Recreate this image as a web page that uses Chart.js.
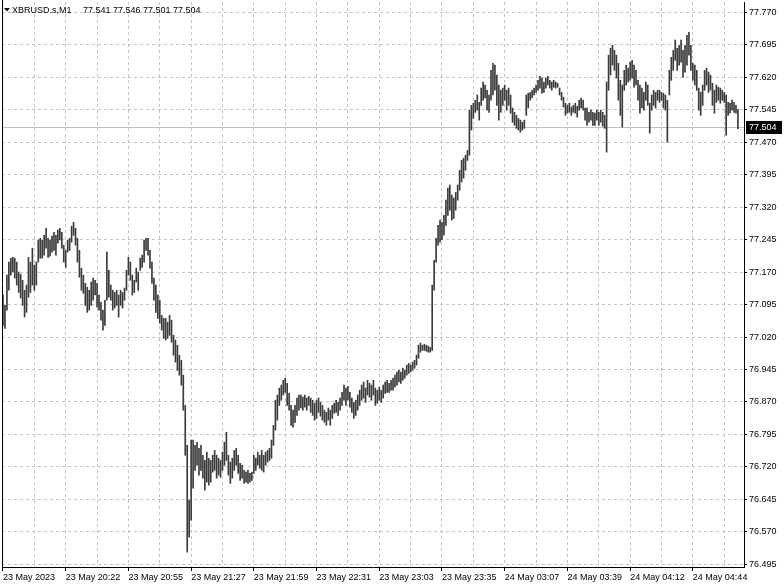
<!DOCTYPE html>
<html><head><meta charset="utf-8">
<script src="https://cdn.jsdelivr.net/npm/chart.js@4/dist/chart.umd.min.js"></script>
<style>html,body{margin:0;padding:0;background:#fff}#wrap{width:784px;height:588px}</style>
</head><body><div id="wrap"><canvas id="c" width="784" height="588"></canvas></div>
<script>
const symbolName = "XBRUSD.s,M1";
const headerOHLC = [77.541, 77.546, 77.501, 77.504];
const lastPrice = 77.504;
const timeLabels = ["23 May 2023","23 May 20:22","23 May 20:55","23 May 21:27","23 May 21:59","23 May 22:31","23 May 23:03","23 May 23:35","24 May 03:07","24 May 03:39","24 May 04:12","24 May 04:44"];
const labelBars = [0,32,64,96,128,160,192,224,256,288,320,352];
const gridBars = [0,16,32,48,64,80,96,112,128,144,160,176,192,208,224,240,256,272,288,304,320,336,352,368];
const priceTicks = [76.495,76.570,76.645,76.720,76.795,76.870,76.945,77.020,77.095,77.170,77.245,77.320,77.395,77.470,77.545,77.620,77.695,77.770];

const highs = [
77.117,77.093,77.163,77.193,77.202,77.204,77.202,77.193,77.170,77.165,
77.151,77.128,77.140,77.204,77.193,77.225,77.186,77.193,77.244,77.248,
77.244,77.255,77.271,77.248,77.244,77.253,77.262,77.255,77.267,77.271,
77.262,77.232,77.220,77.244,77.248,77.276,77.285,77.271,77.248,77.220,
77.179,77.163,77.144,77.135,77.128,77.147,77.156,77.151,77.144,77.117,
77.100,77.082,77.105,77.216,77.174,77.140,77.128,77.123,77.128,77.117,
77.128,77.123,77.133,77.174,77.204,77.193,77.163,77.151,77.179,77.170,
77.202,77.209,77.244,77.248,77.248,77.220,77.193,77.156,77.140,77.117,
77.105,77.070,77.063,77.063,77.054,77.070,77.059,77.024,77.013,77.001,
76.978,76.966,76.932,76.862,76.770,76.643,76.782,76.782,76.770,76.777,
76.763,76.770,76.747,76.735,76.754,76.740,76.735,76.747,76.758,76.747,
76.740,76.735,76.754,76.777,76.800,76.747,76.731,76.740,76.758,76.763,
76.747,76.728,76.724,76.712,76.708,76.712,76.705,76.708,76.747,76.740,
76.754,76.747,76.758,76.747,76.754,76.758,76.763,76.782,76.816,76.874,
76.886,76.902,76.909,76.920,76.925,76.913,76.890,76.862,76.851,76.862,
76.879,76.886,76.886,76.881,76.886,76.879,76.883,76.879,76.874,76.867,
76.874,76.879,76.869,76.862,76.851,76.846,76.856,76.851,76.862,76.867,
76.874,76.869,76.879,76.892,76.909,76.902,76.906,76.892,76.879,76.869,
76.874,76.886,76.897,76.909,76.916,76.902,76.920,76.913,76.909,76.920,
76.902,76.897,76.904,76.897,76.909,76.916,76.920,76.913,76.920,76.925,
76.932,76.939,76.943,76.939,76.948,76.943,76.955,76.959,76.955,76.962,
76.966,76.978,77.001,77.006,77.001,77.003,77.001,76.999,76.996,77.140,
77.197,77.248,77.278,77.290,77.285,77.301,77.336,77.364,77.371,77.348,
77.341,77.354,77.371,77.405,77.428,77.433,77.440,77.451,77.544,77.555,
77.560,77.567,77.579,77.562,77.595,77.609,77.602,77.590,77.579,77.636,
77.652,77.648,77.625,77.602,77.590,77.595,77.602,77.590,77.595,77.579,
77.549,77.539,77.532,77.525,77.521,77.516,77.521,77.579,77.583,77.585,
77.590,77.595,77.602,77.613,77.622,77.618,77.609,77.618,77.622,77.613,
77.609,77.613,77.609,77.606,77.595,77.585,77.574,77.560,77.555,77.560,
77.551,77.555,77.560,77.553,77.567,77.572,77.567,77.549,77.549,77.539,
77.544,77.539,77.537,77.544,77.539,77.544,77.539,77.532,77.609,77.671,
77.687,77.694,77.682,77.671,77.652,77.613,77.602,77.636,77.648,77.641,
77.655,77.659,77.648,77.636,77.613,77.602,77.595,77.585,77.609,77.602,
77.560,77.579,77.590,77.585,77.590,77.590,77.585,77.583,77.579,77.567,
77.636,77.666,77.682,77.706,77.687,77.694,77.706,77.682,77.694,77.717,
77.724,77.694,77.652,77.648,77.636,77.595,77.585,77.602,77.636,77.641,
77.632,77.625,77.606,77.590,77.602,77.597,77.595,77.590,77.585,77.579,
77.562,77.560,77.567,77.562,77.555,77.546
];
const lows = [
77.047,77.040,77.082,77.128,77.163,77.170,77.156,77.140,77.123,77.110,
77.093,77.066,77.077,77.112,77.123,77.140,77.128,77.140,77.193,77.202,
77.202,77.209,77.225,77.204,77.207,77.216,77.220,77.209,77.237,77.244,
77.225,77.193,77.181,77.216,77.220,77.239,77.255,77.232,77.193,77.158,
77.128,77.121,77.093,77.077,77.082,77.093,77.105,77.117,77.089,77.082,
77.059,77.036,77.047,77.105,77.112,77.105,77.082,77.087,77.093,77.066,
77.093,77.087,77.105,77.128,77.163,77.151,77.117,77.123,77.147,77.128,
77.174,77.181,77.193,77.220,77.209,77.179,77.144,77.105,77.077,77.063,
77.052,77.036,77.017,77.013,77.017,77.024,77.008,76.978,76.962,76.943,
76.932,76.909,76.851,76.747,76.523,76.558,76.597,76.671,76.712,76.724,
76.701,76.712,76.694,76.666,76.685,76.678,76.685,76.708,76.712,76.694,
76.701,76.696,76.712,76.724,76.735,76.701,76.682,76.694,76.712,76.724,
76.705,76.689,76.694,76.682,76.685,76.682,76.685,76.689,76.705,76.712,
76.724,76.717,76.712,76.708,76.724,76.731,76.735,76.740,76.770,76.805,
76.828,76.862,76.874,76.886,76.892,76.862,76.851,76.816,76.812,76.823,
76.839,76.851,76.856,76.851,76.858,76.851,76.862,76.846,76.839,76.828,
76.832,76.846,76.837,76.828,76.823,76.816,76.828,76.816,76.832,76.844,
76.846,76.839,76.851,76.862,76.874,76.862,76.874,76.858,76.846,76.832,
76.839,76.851,76.862,76.874,76.879,76.869,76.886,76.881,76.874,76.886,
76.862,76.867,76.874,76.869,76.879,76.890,76.892,76.892,76.897,76.897,
76.904,76.909,76.916,76.913,76.920,76.925,76.932,76.936,76.939,76.943,
76.948,76.955,76.971,76.985,76.989,76.989,76.987,76.985,76.985,76.989,
77.128,77.193,77.232,77.239,77.244,77.255,77.278,77.301,77.313,77.290,
77.294,77.313,77.336,77.359,77.378,77.387,77.405,77.428,77.440,77.498,
77.525,77.539,77.544,77.521,77.555,77.567,77.572,77.544,77.539,77.567,
77.579,77.590,77.555,77.521,77.539,77.555,77.567,77.544,77.555,77.537,
77.516,77.509,77.502,77.498,77.493,77.498,77.502,77.532,77.549,77.567,
77.572,77.579,77.585,77.590,77.595,77.583,77.585,77.595,77.602,77.595,
77.590,77.597,77.595,77.597,77.579,77.567,77.551,77.532,77.537,77.539,
77.532,77.539,77.537,77.528,77.544,77.549,77.544,77.521,77.509,77.516,
77.521,77.509,77.509,77.521,77.509,77.516,77.507,77.502,77.447,77.590,
77.625,77.648,77.636,77.618,77.567,77.532,77.505,77.590,77.602,77.609,
77.613,77.618,77.597,77.602,77.567,77.537,77.549,77.544,77.567,77.555,
77.491,77.544,77.555,77.549,77.567,77.562,77.567,77.549,77.544,77.470,
77.579,77.613,77.636,77.659,77.636,77.648,77.655,77.620,77.632,77.648,
77.671,77.636,77.613,77.602,77.590,77.544,77.532,77.555,77.590,77.602,
77.585,77.590,77.555,77.537,77.562,77.567,77.560,77.567,77.562,77.486,
77.532,77.537,77.544,77.539,77.537,77.501
];

const FONT = {family: '"Liberation Sans", Arial, sans-serif', size: 9};
const bars = highs.map((h, i) => ({x: i, y: [lows[i], h]}));

const overlay = {
  id: 'overlay',
  beforeDatasetsDraw(chart) {
    const {ctx, chartArea: a, scales: {y}} = chart;
    const py = Math.round(y.getPixelForValue(lastPrice)) + 0.5;
    ctx.save();
    ctx.strokeStyle = '#c0c0c0';
    ctx.lineWidth = 1;
    ctx.beginPath(); ctx.moveTo(a.left, py); ctx.lineTo(a.right, py); ctx.stroke();
    ctx.restore();
  },
  afterDraw(chart) {
    const {ctx, chartArea: a, scales: {y}} = chart;
    ctx.save();
    ctx.strokeStyle = '#000';
    ctx.lineWidth = 1;
    ctx.beginPath(); ctx.moveTo(a.left + 0.5, 0); ctx.lineTo(a.left + 0.5, a.bottom); ctx.stroke();
    const py = Math.round(y.getPixelForValue(lastPrice));
    ctx.fillStyle = '#000';
    ctx.fillRect(a.right + 2, py - 6, 36, 13);
    ctx.fillStyle = '#fff';
    ctx.font = `${FONT.size}px ${FONT.family}`;
    ctx.textBaseline = 'middle';
    ctx.textAlign = 'left';
    ctx.fillText(lastPrice.toFixed(3), a.right + 5, py + 0.5);
    ctx.fillStyle = '#000';
    ctx.beginPath(); ctx.moveTo(4, 8); ctx.lineTo(10, 8); ctx.lineTo(7, 11.5); ctx.closePath(); ctx.fill();
    ctx.fillText(symbolName, 12, 10.5);
    ctx.fillText(headerOHLC.map(v => v.toFixed(3)).join(' '), 83, 10.5);
    ctx.restore();
  }
};

new Chart(document.getElementById('c'), {
  type: 'bar',
  data: {datasets: [{data: bars, backgroundColor: '#3a3a3a', borderWidth: 0, barThickness: 1, grouped: false}]},
  options: {
    responsive: false, animation: false, devicePixelRatio: 1,
    layout: {padding: {left: 2, top: 2, right: 0, bottom: 0}},
    plugins: {legend: {display: false}, tooltip: {enabled: false}},
    scales: {
      x: {
        type: 'linear', offset: false, min: -0.51, max: 378.1,
        afterBuildTicks: s => { s.ticks = gridBars.map(v => ({value: v})); },
        afterFit: s => { s.height = 21; s.paddingLeft = 0; s.paddingRight = 0; },
        grid: {
          offset: false, lineWidth: 1, drawTicks: true, tickLength: 4,
          color: c => c.index === 0 ? 'rgba(0,0,0,0)' : '#c4c4c4',
          tickColor: c => (c.tick && labelBars.includes(c.tick.value)) ? '#000' : 'rgba(0,0,0,0)'
        },
        border: {display: true, color: '#000', width: 1, dash: [3, 3]},
        ticks: {
          autoSkip: false, maxRotation: 0, minRotation: 0, align: 'start', padding: 1,
          color: '#000', font: FONT,
          callback: v => { const k = labelBars.indexOf(v); return k >= 0 ? timeLabels[k] : ''; }
        }
      },
      y: {
        position: 'right', min: 76.4888, max: 77.7938,
        afterBuildTicks: s => { s.ticks = priceTicks.map(v => ({value: v})); },
        afterFit: s => { s.width = 40; s.paddingTop = 0; s.paddingBottom = 0; },
        grid: {lineWidth: 1, color: '#c4c4c4', drawTicks: true, tickLength: 3, tickColor: '#000'},
        border: {display: true, color: '#000', width: 1, dash: [3, 3]},
        ticks: {color: '#000', font: FONT, padding: 2, callback: v => Number(v).toFixed(3)}
      }
    }
  },
  plugins: [overlay]
});
</script>
</body></html>
